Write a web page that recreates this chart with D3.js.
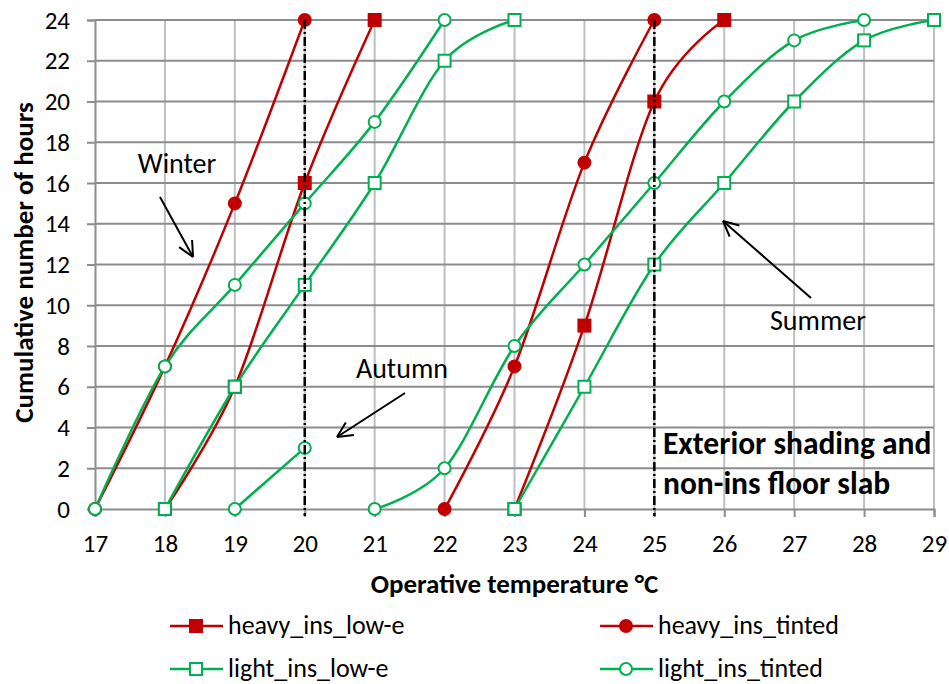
<!DOCTYPE html>
<html>
<head>
<meta charset="utf-8">
<script src="https://cdn.jsdelivr.net/npm/d3@7"></script>
<style>
  html, body { margin: 0; padding: 0; background: #fff; }
  svg { display: block; font-family: Carlito, Lato, "Open Sans", sans-serif; }
</style>
</head>
<body>
<svg id="chart" width="949" height="684"></svg>
<script>
// Cumulative number of hours at or below each operative temperature.
// Each series has separate curves for winter, autumn and summer days.
const xTicks = [17, 18, 19, 20, 21, 22, 23, 24, 25, 26, 27, 28, 29];
const yTicks = [0, 2, 4, 6, 8, 10, 12, 14, 16, 18, 20, 22, 24];

const heavyInsLowE = [
  [[18, 0], [19, 6], [20, 16], [21, 24]],                 // winter
  [[23, 0], [24, 9], [25, 20], [26, 24]]                  // summer
];
const heavyInsTinted = [
  [[17, 0], [18, 7], [19, 15], [20, 24]],
  [[22, 0], [23, 7], [24, 17], [25, 24]]
];
const lightInsLowE = [
  [[18, 0], [19, 6], [20, 11], [21, 16], [22, 22], [23, 24]],
  [[23, 0], [24, 6], [25, 12], [26, 16], [27, 20], [28, 23], [29, 24]]
];
const lightInsTinted = [
  [[17, 0], [18, 7], [19, 11], [20, 15], [21, 19], [22, 24]],
  [[19, 0], [20, 3]],                                     // autumn
  [[21, 0], [22, 2], [23, 8], [24, 12], [25, 16], [26, 20], [27, 23], [28, 24]]
];

// Reference temperatures marked with dash-dot lines
const markerTemps = [20, 25];

const seriesNames = ["heavy_ins_low-e", "heavy_ins_tinted", "light_ins_low-e", "light_ins_tinted"];
const RED = "#C00000", GREEN = "#00B050";
const series = [
  { name: seriesNames[0], segs: heavyInsLowE,   color: RED,   shape: "square", filled: true },
  { name: seriesNames[1], segs: heavyInsTinted, color: RED,   shape: "circle", filled: true },
  { name: seriesNames[2], segs: lightInsLowE,   color: GREEN, shape: "square", filled: false },
  { name: seriesNames[3], segs: lightInsTinted, color: GREEN, shape: "circle", filled: false }
];

const svg = d3.select("#chart");
const x = d3.scaleLinear().domain([17, 29]).range([95, 934]);
const y = d3.scaleLinear().domain([0, 24]).range([509, 20]);

// Gridlines
svg.append("g").selectAll("line").data(xTicks.slice(1)).join("line")
  .attr("x1", d => x(d)).attr("x2", d => x(d))
  .attr("y1", y(0)).attr("y2", y(24))
  .attr("stroke", "#BFBFBF").attr("stroke-width", 2);
svg.append("g").selectAll("line").data(yTicks.slice(1)).join("line")
  .attr("x1", x(17)).attr("x2", x(29))
  .attr("y1", d => y(d)).attr("y2", d => y(d))
  .attr("stroke", "#8C8C8C").attr("stroke-width", 2);

// Axes
const yAxis = svg.append("g").attr("transform", `translate(${x(17)},0)`)
  .call(d3.axisLeft(y).tickValues(yTicks).tickSize(8).tickPadding(17));
const xAxis = svg.append("g").attr("transform", `translate(0,${y(0)})`)
  .call(d3.axisBottom(x).tickValues(xTicks).tickSize(8).tickPadding(17));
[yAxis, xAxis].forEach(a => {
  a.select(".domain").attr("stroke", "#8C8C8C").attr("stroke-width", 2);
  a.selectAll(".tick line").attr("stroke", "#8C8C8C").attr("stroke-width", 2);
  a.selectAll(".tick text").attr("fill", "#000").attr("font-size", 25)
    .attr("font-family", "Carlito, Lato, sans-serif");
});

// Axis titles
svg.append("text").attr("x", x(23)).attr("y", 593)
  .attr("text-anchor", "middle").attr("font-weight", "bold").attr("font-size", 27)
  .text("Operative temperature °C");
svg.append("text").attr("transform", `translate(33,${y(12) - 2}) rotate(-90)`)
  .attr("text-anchor", "middle").attr("font-weight", "bold").attr("font-size", 27)
  .text("Cumulative number of hours");

// Smoothed series lines
const line = d3.line().x(d => x(d[0])).y(d => y(d[1])).curve(d3.curveCardinal.tension(0));
const linesG = svg.append("g");
series.forEach(s => {
  s.segs.forEach(seg => {
    linesG.append("path").attr("d", line(seg))
      .attr("fill", "none").attr("stroke", s.color).attr("stroke-width", 2.5);
  });
});

function drawMarker(g, s, cx, cy) {
  if (s.shape === "square") {
    g.append("rect").attr("x", cx - 6).attr("y", cy - 6).attr("width", 12).attr("height", 12)
      .attr("fill", s.filled ? s.color : "#fff").attr("stroke", s.color).attr("stroke-width", 2);
  } else {
    g.append("circle").attr("cx", cx).attr("cy", cy).attr("r", 6)
      .attr("fill", s.filled ? s.color : "#fff").attr("stroke", s.color).attr("stroke-width", 2);
  }
}

// Markers
const markG = svg.append("g");
series.forEach(s => {
  s.segs.forEach(seg => seg.forEach(p => drawMarker(markG, s, x(p[0]), y(p[1]))));
});

// Dash-dot reference lines
svg.append("g").selectAll("line").data(markerTemps).join("line")
  .attr("x1", d => x(d)).attr("x2", d => x(d))
  .attr("y1", y(24)).attr("y2", y(0) + 7)
  .attr("stroke", "#000").attr("stroke-width", 2.5)
  .attr("stroke-dasharray", "9,3,2,3");

// Season annotations with arrows
const notes = [
  { text: "Winter", tx: 177, ty: 173, from: [160, 197], to: [193, 257] },
  { text: "Autumn", tx: 402, ty: 378, from: [405, 393], to: [337, 437] },
  { text: "Summer", tx: 818, ty: 330, from: [811, 298], to: [723, 221] }
];
const noteG = svg.append("g");
notes.forEach(n => {
  noteG.append("text").attr("x", n.tx).attr("y", n.ty).attr("text-anchor", "middle")
    .attr("font-size", 28).text(n.text);
  noteG.append("line").attr("x1", n.from[0]).attr("y1", n.from[1])
    .attr("x2", n.to[0]).attr("y2", n.to[1]).attr("stroke", "#000").attr("stroke-width", 2);
  const ang = Math.atan2(n.to[1] - n.from[1], n.to[0] - n.from[0]);
  const len = 17, spread = 0.45;
  [ang + Math.PI - spread, ang + Math.PI + spread].forEach(a => {
    noteG.append("line").attr("x1", n.to[0]).attr("y1", n.to[1])
      .attr("x2", n.to[0] + len * Math.cos(a)).attr("y2", n.to[1] + len * Math.sin(a))
      .attr("stroke", "#000").attr("stroke-width", 2);
  });
});

// Case description
const caseText = svg.append("text").attr("font-weight", "bold").attr("font-size", 31.5);
caseText.append("tspan").attr("x", 663).attr("y", 454).text("Exterior shading and");
caseText.append("tspan").attr("x", 663).attr("y", 494).text("non-ins floor slab");

// Legend
const legendPos = [[170, 626], [600, 626], [170, 669], [600, 669]];
const legG = svg.append("g");
series.forEach((s, i) => {
  const [lx, ly] = legendPos[i];
  legG.append("line").attr("x1", lx).attr("x2", lx + 53).attr("y1", ly).attr("y2", ly)
    .attr("stroke", s.color).attr("stroke-width", 2.5);
  drawMarker(legG, s, lx + 26, ly);
  legG.append("text").attr("x", lx + 58).attr("y", ly + 8).attr("font-size", 26).text(s.name);
});
</script>
</body>
</html>
